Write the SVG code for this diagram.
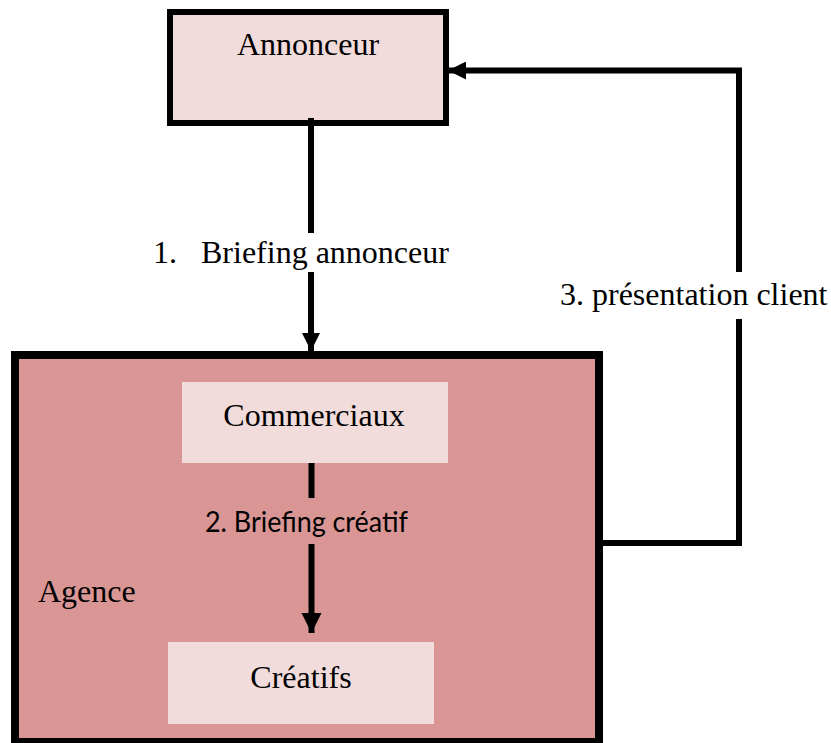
<svg xmlns="http://www.w3.org/2000/svg" width="831" height="743" viewBox="0 0 831 743">
  <style>
    .serif { font-family: "Liberation Serif", "Times New Roman", serif; font-size: 32px; fill: #000; }
    .sans { font-family: Lato, "Liberation Sans", sans-serif; font-size: 28px; fill: #000; }
    .light { fill: #F2DCDB; }
    .line { fill: none; stroke: #000; stroke-width: 6; }
  </style>
  <defs>
    <marker id="head" viewBox="0 0 10 10" refX="10" refY="5" markerWidth="3" markerHeight="3" orient="auto" markerUnits="strokeWidth">
      <path d="M0,0 L10,5 L0,10 Z" fill="#000"/>
    </marker>
    <marker id="headBig" viewBox="0 0 10 10" refX="10" refY="5" markerWidth="3.4" markerHeight="3.4" orient="auto" markerUnits="strokeWidth">
      <path d="M0,0 L10,5 L0,10 Z" fill="#000"/>
    </marker>
  </defs>

  <rect width="831" height="743" fill="#fff"/>

  <!-- Advertiser -->
  <g id="annonceur">
    <rect x="170" y="12" width="276" height="111" class="light" stroke="#000" stroke-width="6"/>
    <text x="308" y="55" text-anchor="middle" class="serif">Annonceur</text>
  </g>

  <!-- Agency container -->
  <g id="agence">
    <rect x="15" y="355" width="584" height="387" fill="#D99694" stroke="#000" stroke-width="8"/>
    <text x="38" y="602" class="serif">Agence</text>
  </g>

  <g id="commerciaux">
    <rect x="182" y="382" width="266" height="81" class="light"/>
    <text x="314" y="426" text-anchor="middle" class="serif">Commerciaux</text>
  </g>

  <g id="creatifs">
    <rect x="168" y="642" width="266" height="82" class="light"/>
    <text x="301" y="688" text-anchor="middle" class="serif">Créatifs</text>
  </g>

  <!-- Connectors -->
  <g id="connectors">
    <!-- 1. advertiser briefing -->
    <line x1="311" y1="118" x2="311" y2="351" class="line" marker-end="url(#head)"/>
    <!-- 2. creative briefing -->
    <line x1="311.5" y1="463" x2="311.5" y2="633" class="line" stroke-width="7" marker-end="url(#headBig)"/>
    <!-- 3. client presentation -->
    <polyline points="603,543 739,543 739,70.5 448,70.5" class="line" marker-end="url(#head)"/>

    <g id="label-1">
      <rect x="145" y="233" width="312" height="39" fill="#fff"/>
      <text x="153" y="263" class="serif">1.</text>
      <text x="201" y="263" class="serif">Briefing annonceur</text>
    </g>
    <g id="label-2">
      <rect x="200" y="498" width="212" height="46" fill="#D99694"/>
      <text x="306.5" y="532" text-anchor="middle" class="sans" textLength="203" lengthAdjust="spacingAndGlyphs">2. Briefing créatif</text>
    </g>
    <g id="label-3">
      <rect x="553" y="272" width="278" height="47" fill="#fff"/>
      <text x="560" y="305" class="serif">3. présentation client</text>
    </g>
  </g>
</svg>
